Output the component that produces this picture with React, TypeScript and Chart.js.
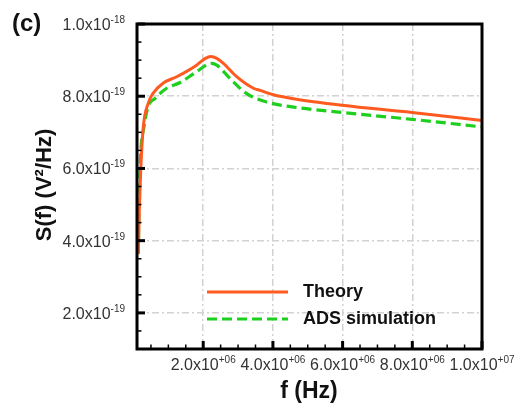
import React, { useEffect, useRef } from "react";
import { Chart, registerables } from "chart.js";
Chart.register(...registerables);

// Frequencies in Hz, spectral density in units of 1e-19 V^2/Hz
const theoryFreq = [1.37e5, 1.66e5, 2.06e5, 2.81e5, 4.24e5, 5.6e5, 8.46e5, 1.24e6, 1.81e6, 2.05e6, 2.22e6, 2.39e6, 2.58e6, 2.96e6, 3.44e6, 3.63e6, 4.01e6, 4.59e6, 5.98e6, 7.99e6, 1.0e7];
const theoryS = [3.64, 4.83, 5.94, 7.15, 7.81, 8.08, 8.36, 8.54, 8.86, 9.04, 9.1, 9.05, 8.91, 8.54, 8.22, 8.16, 8.04, 7.93, 7.75, 7.55, 7.33];
const adsFreq = [1.37e5, 1.66e5, 2.06e5, 3.0e5, 4.16e5, 6.2e5, 9.5e5, 1.34e6, 1.81e6, 2.24e6, 2.39e6, 2.77e6, 3.25e6, 3.82e6, 4.59e6, 5.98e6, 7.99e6, 1.0e7];
const adsS = [3.64, 5.3, 6.42, 7.15, 7.7, 7.94, 8.22, 8.38, 8.68, 8.91, 8.86, 8.49, 8.07, 7.84, 7.7, 7.55, 7.36, 7.15];

const xMin = 1e5;
const xMax = 1e7;
const yMin = 1;
const yMax = 10;
const xTickValues = [2e6, 4e6, 6e6, 8e6, 1e7];
const xTickMantissa = ["2.0", "4.0", "6.0", "8.0", "1.0"];
const xTickExp = ["+06", "+06", "+06", "+06", "+07"];
const yTickValues = [2, 4, 6, 8, 10];
const yTickMantissa = ["2.0", "4.0", "6.0", "8.0", "1.0"];
const yTickExp = ["-19", "-19", "-19", "-19", "-18"];
const xMinorStep = 0.5e6;
const yMinorStep = 0.5;

const seriesNames = ["Theory", "ADS simulation"];
const panelLabel = "(c)";
const xTitle = "f (Hz)";
const yTitle = "S(f) (V\u00B2/Hz)";

const ORANGE = "#ff5a1f";
const GREEN = "#1ecf1e";
const FONT = "'Liberation Sans', Arial, Helvetica, sans-serif";

const decorPlugin = {
  id: "decor",
  afterDraw(chart: any) {
    const ctx = chart.ctx;
    const { left, right, top, bottom } = chart.chartArea;
    const xs = chart.scales.x;
    const ys = chart.scales.y;
    ctx.save();
    ctx.strokeStyle = "#000";
    ctx.lineCap = "butt";
    // minor ticks
    ctx.lineWidth = 1.5;
    for (let v = xMin; v <= xMax + 1; v += xMinorStep) {
      const vv = Math.round(v / xMinorStep) * xMinorStep;
      if (vv <= xMin || vv >= xMax) continue;
      const px = xs.getPixelForValue(vv);
      ctx.beginPath();
      ctx.moveTo(px, bottom);
      ctx.lineTo(px, bottom - 4.5);
      ctx.stroke();
    }
    for (let v = yMin; v <= yMax; v += yMinorStep) {
      if (v <= yMin || v >= yMax) continue;
      const py = ys.getPixelForValue(v);
      ctx.beginPath();
      ctx.moveTo(left, py);
      ctx.lineTo(left + 4.5, py);
      ctx.stroke();
    }
    // major ticks
    ctx.lineWidth = 3;
    xTickValues.forEach((v) => {
      const px = xs.getPixelForValue(v);
      ctx.beginPath();
      ctx.moveTo(px, bottom);
      ctx.lineTo(px, bottom - 8);
      ctx.stroke();
    });
    yTickValues.forEach((v) => {
      const py = ys.getPixelForValue(v);
      ctx.beginPath();
      ctx.moveTo(left, py);
      ctx.lineTo(left + 8, py);
      ctx.stroke();
    });
    // frame
    ctx.lineWidth = 3;
    ctx.strokeRect(left, top, right - left, bottom - top);

    // tick labels
    const mainFont = `16px ${FONT}`;
    const supFont = `10px ${FONT}`;
    ctx.fillStyle = "#333";
    ctx.textBaseline = "alphabetic";
    ctx.textAlign = "left";
    yTickValues.forEach((v, i) => {
      const py = ys.getPixelForValue(v);
      const m = yTickMantissa[i] + "x10";
      ctx.font = mainFont;
      const w1 = ctx.measureText(m).width;
      ctx.font = supFont;
      const w2 = ctx.measureText(yTickExp[i]).width;
      const x0 = 125 - w1 - w2;
      const base = py + 6;
      ctx.font = mainFont;
      ctx.fillText(m, x0, base);
      ctx.font = supFont;
      ctx.fillText(yTickExp[i], x0 + w1, base - 7);
    });
    xTickValues.forEach((v, i) => {
      const px = xs.getPixelForValue(v);
      const m = xTickMantissa[i] + "x10";
      ctx.font = mainFont;
      const w1 = ctx.measureText(m).width;
      ctx.font = supFont;
      const w2 = ctx.measureText(xTickExp[i]).width;
      const x0 = px - (w1 + w2) / 2;
      const base = 369.5;
      ctx.font = mainFont;
      ctx.fillText(m, x0, base);
      ctx.font = supFont;
      ctx.fillText(xTickExp[i], x0 + w1, base - 7);
    });

    // titles
    ctx.fillStyle = "#111";
    ctx.font = `bold 24px ${FONT}`;
    ctx.textAlign = "left";
    ctx.fillText(panelLabel, 12, 31);
    ctx.font = `bold 23px ${FONT}`;
    ctx.textAlign = "center";
    ctx.fillText(xTitle, 309, 398);
    ctx.save();
    ctx.translate(51, 185);
    ctx.rotate(-Math.PI / 2);
    ctx.font = `bold 22px ${FONT}`;
    ctx.textAlign = "center";
    ctx.fillText(yTitle, 0, 0);
    ctx.restore();

    // legend
    ctx.lineWidth = 3;
    ctx.strokeStyle = ORANGE;
    ctx.setLineDash([]);
    ctx.beginPath();
    ctx.moveTo(207, 292);
    ctx.lineTo(288, 292);
    ctx.stroke();
    ctx.strokeStyle = GREEN;
    ctx.lineWidth = 3.2;
    ctx.setLineDash([10, 5]);
    ctx.beginPath();
    ctx.moveTo(207, 319);
    ctx.lineTo(288, 319);
    ctx.stroke();
    ctx.setLineDash([]);
    ctx.fillStyle = "#111";
    ctx.font = `bold 18px ${FONT}`;
    ctx.textAlign = "left";
    ctx.fillText(seriesNames[0], 303, 297);
    ctx.fillText(seriesNames[1], 303, 324);
    ctx.restore();
  },
};

export default function App() {
  const ref = useRef<HTMLCanvasElement | null>(null);
  useEffect(() => {
    if (!ref.current) return;
    const chart = new Chart(ref.current, {
      type: "line",
      data: {
        datasets: [
          {
            label: seriesNames[0],
            data: theoryFreq.map((f, i) => ({ x: f, y: theoryS[i] })),
            borderColor: ORANGE,
            borderWidth: 3,
            pointRadius: 0,
            cubicInterpolationMode: "monotone",
            fill: false,
          },
          {
            label: seriesNames[1],
            data: adsFreq.map((f, i) => ({ x: f, y: adsS[i] })),
            borderColor: GREEN,
            borderWidth: 3.2,
            borderDash: [10, 5],
            pointRadius: 0,
            cubicInterpolationMode: "monotone",
            fill: false,
          },
        ],
      },
      options: {
        animation: false,
        responsive: false,
        maintainAspectRatio: false,
        layout: { padding: { left: 137, right: 38, top: 24, bottom: 60 } },
        plugins: { legend: { display: false }, tooltip: { enabled: false } },
        scales: {
          x: {
            type: "linear",
            min: xMin,
            max: xMax,
            afterBuildTicks: (s: any) => {
              s.ticks = xTickValues.map((v) => ({ value: v }));
            },
            ticks: { display: false },
            grid: { color: "#d2d2d2", lineWidth: 1.5, drawTicks: false },
            border: { display: false, dash: [7, 3, 2, 3] },
          },
          y: {
            type: "linear",
            min: yMin,
            max: yMax,
            afterBuildTicks: (s: any) => {
              s.ticks = yTickValues.map((v) => ({ value: v }));
            },
            ticks: { display: false },
            grid: { color: "#d2d2d2", lineWidth: 1.5, drawTicks: false },
            border: { display: false, dash: [7, 3, 2, 3] },
          },
        },
      },
      plugins: [decorPlugin],
    } as any);
    return () => chart.destroy();
  }, []);
  return (
    <div style={{ position: "absolute", left: 0, top: 0, width: 520, height: 409, background: "#fff" }}>
      <canvas ref={ref} width={520} height={409} style={{ display: "block" }} />
    </div>
  );
}
